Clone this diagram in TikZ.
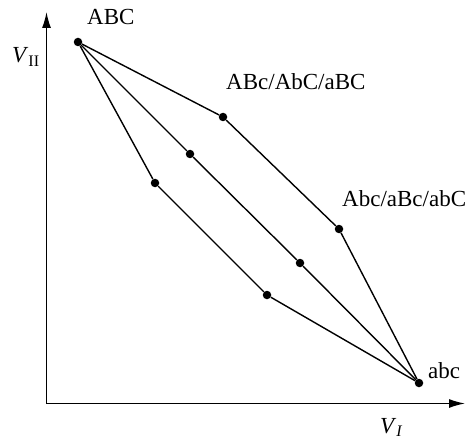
\documentclass[tikz,border=0pt]{standalone}
\usepackage{fontspec}
\setmainfont{Liberation Serif}
\usetikzlibrary{positioning, arrows.meta}

\begin{document}
\begin{tikzpicture}[
    x=1pt, y=-1pt,
    axis/.style={-{Latex[length=16pt, width=9pt]}, line width=1.4pt},
    edge/.style={line width=1.4pt},
    dot/.style={circle, fill=black, inner sep=0pt, minimum size=8.5pt},
    lbl/.style={inner sep=0pt, anchor=base west, font=\fontsize{23}{27}\selectfont}
]
    \useasboundingbox (0,0) rectangle (466,441);

    % Axes
    \coordinate (O) at (46.5,403.5);
    \coordinate (Ytop) at (46.5,12);
    \coordinate (Xend) at (465,403.5);
    \draw[axis] (O) -- (Ytop);
    \draw[axis] (O) -- (Xend);
    \node[lbl] (VII) at (12,63) {\textit{V}\textsubscript{II}};
    \node[lbl] (VI) at (380,433) {\textit{V}\textsubscript{\textit{I}}};

    % Genotype points
    \node[dot] (ABC) at (78,42) {};
    \node[dot] (U1) at (223,117) {};
    \node[dot] (U2) at (339,229) {};
    \node[dot] (M1) at (190,154) {};
    \node[dot] (M2) at (300,263) {};
    \node[dot] (L1) at (155,183) {};
    \node[dot] (L2) at (267,295) {};
    \node[dot] (abc) at (419,383) {};

    % Labels
    \node[lbl] (ABClbl) at (87,25) {ABC};
    \node[lbl] (twolbl) at (226,90) {ABc/AbC/aBC};
    \node[lbl] (onelbl) at (342,207) {Abc/aBc/abC};
    \node[lbl] (abclbl) at (428,378) {abc};

    % Paths
    \draw[edge] (ABC) -- (U1) -- (U2) -- (abc);
    \draw[edge] (ABC) -- (M1) -- (M2) -- (abc);
    \draw[edge] (ABC) -- (L1) -- (L2) -- (abc);

\end{tikzpicture}
\end{document}
